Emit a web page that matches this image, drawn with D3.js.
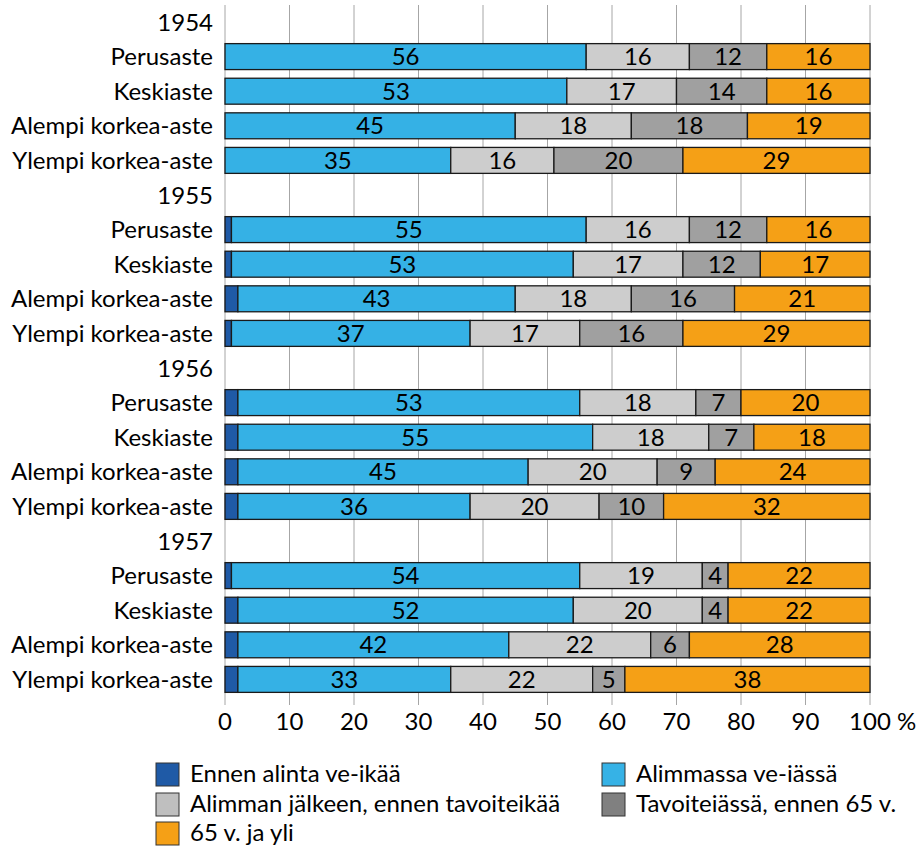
<!DOCTYPE html>
<html><head><meta charset="utf-8">
<script src="https://cdn.jsdelivr.net/npm/d3@7"></script>
<style>body{margin:0;background:#fff;} text{font-family:Lato, "Open Sans", sans-serif;}</style>
</head><body>
<svg id="c" width="922" height="848"></svg>
<script>
const years = ["1954","1955","1956","1957"];
const levels = ["Perusaste","Keskiaste","Alempi korkea-aste","Ylempi korkea-aste"];
const seriesNames = ["Ennen alinta ve-ikää","Alimmassa ve-iässä","Alimman jälkeen, ennen tavoiteikää","Tavoiteiässä, ennen 65 v.","65 v. ja yli"];
// values per (year, level), in order 1954 P,K,A,Y, 1955 ...
const ennen    = [0,0,0,0, 1,1,2,1, 2,2,2,2, 1,2,2,2];
const alimmassa= [56,53,45,35, 55,53,43,37, 53,55,45,36, 54,52,42,33];
const jalkeen  = [16,17,18,16, 16,17,18,17, 18,18,20,20, 19,20,22,22];
const tavoite  = [12,14,18,20, 12,12,16,16, 7,7,9,10, 4,4,6,5];
const yli65    = [16,16,19,29, 16,17,21,29, 20,18,24,32, 22,22,28,38];
const xTicks = [0,10,20,30,40,50,60,70,80,90,100];

const barColors = ["#1F5AA6","#35B1E5","#CDCDCD","#A0A0A0","#F5A016"];
const legendColors = ["#1F5AA6","#36B2E6","#BFBFBF","#808080","#F5A016"];
const series = [ennen, alimmassa, jalkeen, tavoite, yli65];
const FS = 24;

const svg = d3.select("#c");
const x = d3.scaleLinear().domain([0,100]).range([225,870]);

const rows = [];
years.forEach((yr,yi)=>{
  rows.push({id:"h"+yr, label:yr, header:true});
  levels.forEach((lv,li)=>rows.push({id:yr+"-"+li, label:lv, header:false, idx: yi*4+li}));
});
const y = d3.scaleBand().domain(rows.map(r=>r.id)).range([4.7,696.7]).paddingInner(0.25).paddingOuter(0.125);

svg.append("g").selectAll("line").data(xTicks).join("line")
  .attr("x1",d=>x(d)).attr("x2",d=>x(d)).attr("y1",5).attr("y2",705)
  .attr("stroke","#A6A6A6").attr("stroke-width",1);

const barRows = rows.filter(r=>!r.header);
barRows.forEach(r=>{
  let cum = 0;
  series.forEach((s,si)=>{
    const v = s[r.idx];
    const x0 = cum; cum += v;
    if (v<=0) return;
    svg.append("rect").attr("x",x(x0)).attr("y",y(r.id)).attr("width",x(cum)-x(x0)).attr("height",y.bandwidth())
      .attr("fill",barColors[si]).attr("stroke","#1a1a1a").attr("stroke-width",1.3);
    if (si>0) {
      svg.append("text").attr("x",(x(x0)+x(cum))/2).attr("y",y(r.id)+y.bandwidth()/2).attr("dy","0.36em")
        .attr("text-anchor","middle").attr("font-size",FS).attr("fill","#000").text(v);
    }
  });
});

svg.append("g").selectAll("text").data(rows).join("text")
  .attr("x",213).attr("y",d=>y(d.id)+y.bandwidth()/2).attr("dy","0.36em")
  .attr("text-anchor","end").attr("font-size",FS).attr("fill","#000").text(d=>d.label);

svg.append("g").selectAll("text").data(xTicks).join("text")
  .attr("x",d=>x(d)).attr("y",721).attr("dy","0.36em")
  .attr("text-anchor","middle").attr("font-size",FS).attr("fill","#000").text(d=>d);
svg.append("text").attr("x",897).attr("y",721).attr("dy","0.36em").attr("font-size",FS).text("%");

const legPos = [[156,774],[602,774],[156,804],[602,804],[156,833]];
seriesNames.forEach((n,i)=>{
  const [lx,ly] = legPos[i];
  svg.append("rect").attr("x",lx).attr("y",ly-11).attr("width",23).attr("height",23)
    .attr("fill",legendColors[i]).attr("stroke","#333").attr("stroke-width",1);
  svg.append("text").attr("x",lx+34).attr("y",ly).attr("dy","0.34em").attr("font-size",FS).text(n);
});
</script>
</body></html>
